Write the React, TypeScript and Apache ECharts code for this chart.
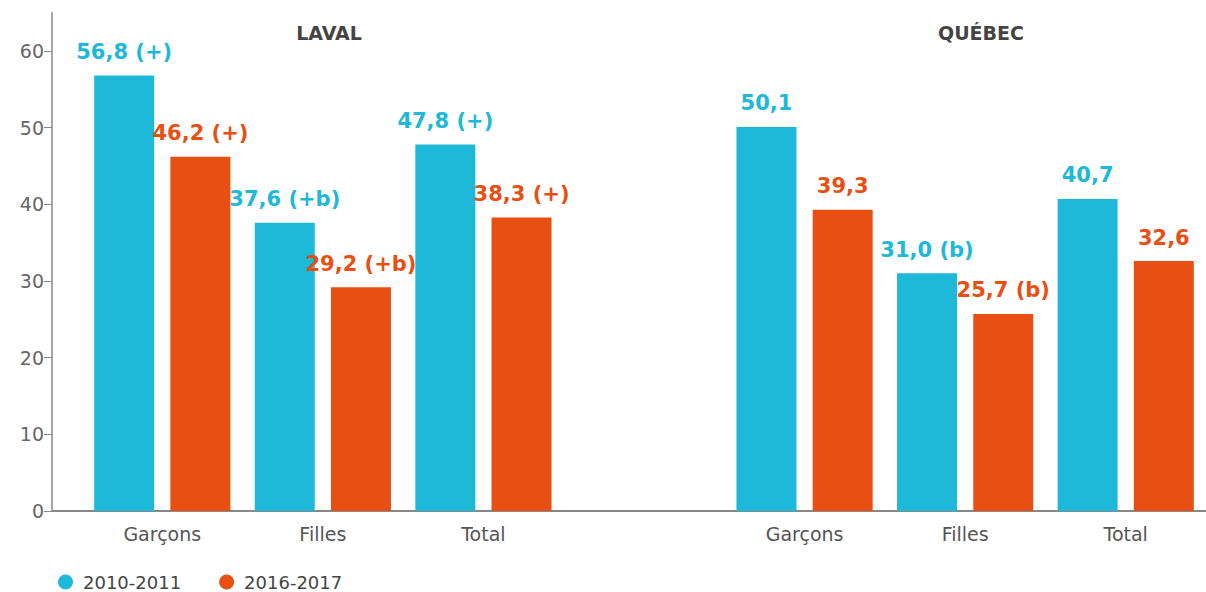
import React, { useEffect, useRef } from "react";
import * as echarts from "echarts";

const categories = ["Garçons", "Filles", "Total", "", "Garçons", "Filles", "Total"];
const seriesNames = ["2010-2011", "2016-2017"];
const values2010 = [56.8, 37.6, 47.8, null, 50.1, 31.0, 40.7];
const values2016 = [46.2, 29.2, 38.3, null, 39.3, 25.7, 32.6];
const notes2010 = ["(+)", "(+b)", "(+)", "", "", "(b)", ""];
const notes2016 = ["(+)", "(+b)", "(+)", "", "", "(b)", ""];
const yTicks = [0, 10, 20, 30, 40, 50, 60];
const regionTitles = ["LAVAL", "QUÉBEC"];

const BLUE = "#1eb8d8";
const ORANGE = "#e84f13";
const FONT = "'DejaVu Sans', 'Noto Sans', sans-serif";

function fmt(v: number | null, note: string): string {
  if (v == null) return "";
  const s = v.toFixed(1).replace(".", ",");
  return note ? `${s} ${note}` : s;
}

export default function App() {
  const ref = useRef<HTMLDivElement>(null);
  useEffect(() => {
    if (!ref.current) return;
    const chart = echarts.init(ref.current, undefined, { renderer: "svg" });
    const top = 12.7;
    const height = 498.3;
    const makeSeries = (name: string, data: (number | null)[], notes: string[], color: string) => ({
      name,
      type: "bar",
      xAxisIndex: 0,
      yAxisIndex: 0,
      data,
      barWidth: 60,
      barGap: "27%",
      itemStyle: { color },
      label: {
        show: true,
        position: "top",
        distance: 13,
        color,
        fontFamily: FONT,
        fontWeight: "bold",
        fontSize: 21,
        formatter: (p: any) => fmt(data[p.dataIndex], notes[p.dataIndex]),
      },
    });
    chart.setOption({
      animation: false,
      backgroundColor: "#ffffff",
      grid: [
        { left: 82, width: 1134, top, height },
        { left: 52, right: 0, top, height },
      ],
      xAxis: [
        {
          type: "category",
          gridIndex: 0,
          data: categories,
          axisLine: { show: false },
          axisTick: { show: false },
          axisLabel: { color: "#555", fontFamily: FONT, fontSize: 19, margin: 13 },
        },
        {
          type: "value",
          gridIndex: 1,
          min: 0,
          max: 1,
          axisLine: { show: true, lineStyle: { color: "#888", width: 2 } },
          axisTick: { show: false },
          axisLabel: { show: false },
          splitLine: { show: false },
        },
      ],
      yAxis: [
        { type: "value", gridIndex: 0, min: 0, max: 65, show: false, splitLine: { show: false } },
        {
          type: "value",
          gridIndex: 1,
          min: 0,
          max: 65,
          axisLine: { show: true, lineStyle: { color: "#888", width: 1.5 } },
          axisTick: { show: true, length: 8, customValues: yTicks, lineStyle: { color: "#888" } },
          axisLabel: { customValues: yTicks, color: "#666", fontFamily: FONT, fontSize: 19, margin: 8 },
          splitLine: { show: false },
        },
      ],
      legend: {
        left: 53,
        top: 568,
        icon: "circle",
        itemWidth: 25,
        itemHeight: 15,
        itemGap: 38,
        data: seriesNames,
        textStyle: { color: "#444", fontFamily: FONT, fontSize: 18 },
      },
      graphic: [
        {
          type: "text",
          x: 329,
          y: 32.5,
          style: { text: regionTitles[0], align: "center", verticalAlign: "middle", fill: "#444", font: `bold 19px ${FONT}` },
        },
        {
          type: "text",
          x: 981,
          y: 32.5,
          style: { text: regionTitles[1], align: "center", verticalAlign: "middle", fill: "#444", font: `bold 19px ${FONT}` },
        },
      ],
      series: [
        makeSeries(seriesNames[0], values2010, notes2010, BLUE),
        makeSeries(seriesNames[1], values2016, notes2016, ORANGE),
      ],
    });
    return () => chart.dispose();
  }, []);
  return (
    <div
      ref={ref}
      style={{ position: "fixed", left: 0, top: 0, width: 1206, height: 592, background: "#fff" }}
    />
  );
}
